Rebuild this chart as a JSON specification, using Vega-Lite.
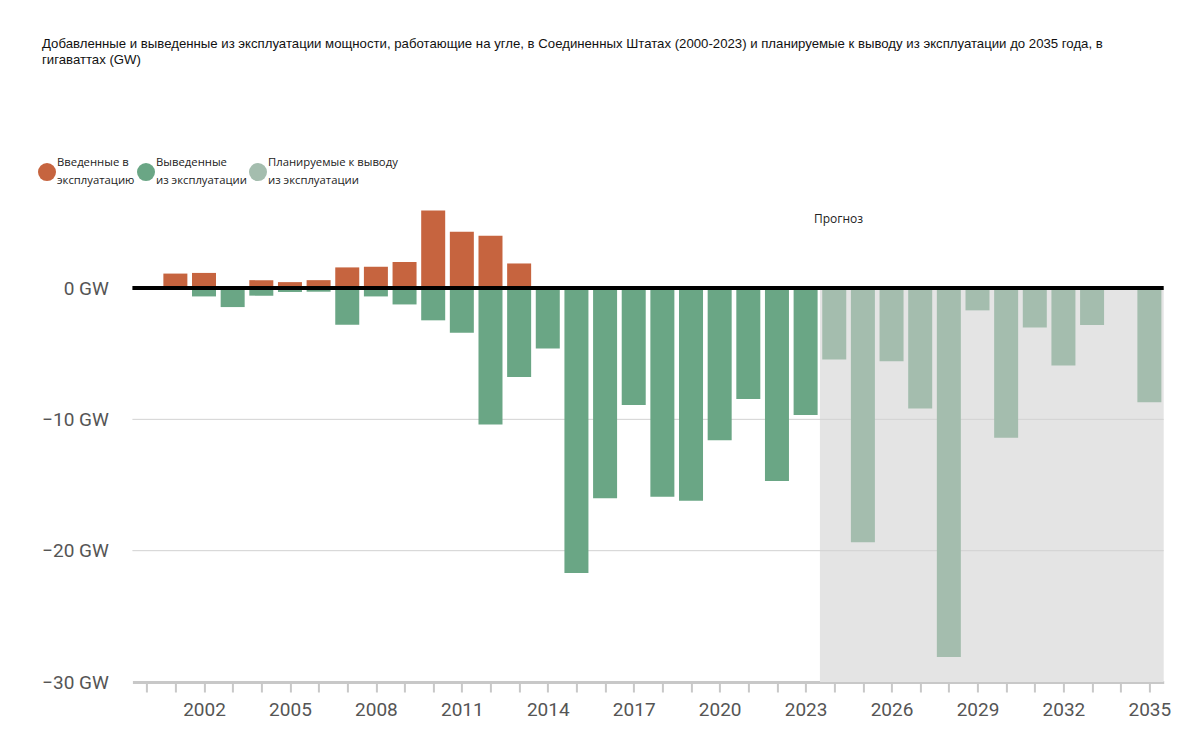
{
  "$schema": "https://vega.github.io/schema/vega-lite/v6.json",
  "autosize": "none",
  "width": 1031.3,
  "height": 525.3,
  "padding": {"left": 132.4, "top": 156.7, "right": 36.3, "bottom": 60},
  "background": "white",
  "title": {
    "text": ["Добавленные и выведенные из эксплуатации мощности, работающие на угле, в Соединенных Штатах (2000-2023) и планируемые к выводу из эксплуатации до 2035 года, в", "гигаваттах (GW)"],
    "anchor": "start",
    "frame": "group",
    "dx": -90.4,
    "font": "Liberation Sans",
    "fontSize": 13.2,
    "fontWeight": "normal",
    "color": "#111111",
    "lineHeight": 16,
    "offset": 90
  },
  "config": {
    "view": {"stroke": null},
    "axis": {"labelOverlap": false, "labelFlush": false},
    "legend": {
      "orient": "none",
      "direction": "horizontal",
      "legendX": -94.4,
      "legendY": 6,
      "symbolType": "circle",
      "symbolSize": 324,
      "symbolStrokeWidth": 0,
      "symbolOpacity": 1,
      "labelFont": "Open Sans",
      "labelFontSize": 11.3,
      "labelColor": "#222222",
      "labelOffset": 1,
      "columnPadding": 2,
      "labelLimit": 300,
      "padding": 0
    }
  },
  "resolve": {"axis": {"x": "independent"}},
  "datasets": {
    "bars": [
      {"year": 2001, "type": "Введенные в эксплуатацию", "value": 1.1},
      {"year": 2002, "type": "Введенные в эксплуатацию", "value": 1.15},
      {"year": 2004, "type": "Введенные в эксплуатацию", "value": 0.6},
      {"year": 2005, "type": "Введенные в эксплуатацию", "value": 0.45},
      {"year": 2006, "type": "Введенные в эксплуатацию", "value": 0.6},
      {"year": 2007, "type": "Введенные в эксплуатацию", "value": 1.57},
      {"year": 2008, "type": "Введенные в эксплуатацию", "value": 1.62},
      {"year": 2009, "type": "Введенные в эксплуатацию", "value": 1.98},
      {"year": 2010, "type": "Введенные в эксплуатацию", "value": 5.9},
      {"year": 2011, "type": "Введенные в эксплуатацию", "value": 4.28},
      {"year": 2012, "type": "Введенные в эксплуатацию", "value": 3.98},
      {"year": 2013, "type": "Введенные в эксплуатацию", "value": 1.87},
      {"year": 2002, "type": "Выведенные из эксплуатации", "value": -0.64},
      {"year": 2003, "type": "Выведенные из эксплуатации", "value": -1.45},
      {"year": 2004, "type": "Выведенные из эксплуатации", "value": -0.58},
      {"year": 2005, "type": "Выведенные из эксплуатации", "value": -0.3},
      {"year": 2006, "type": "Выведенные из эксплуатации", "value": -0.28},
      {"year": 2007, "type": "Выведенные из эксплуатации", "value": -2.8},
      {"year": 2008, "type": "Выведенные из эксплуатации", "value": -0.64},
      {"year": 2009, "type": "Выведенные из эксплуатации", "value": -1.25},
      {"year": 2010, "type": "Выведенные из эксплуатации", "value": -2.46},
      {"year": 2011, "type": "Выведенные из эксплуатации", "value": -3.4},
      {"year": 2012, "type": "Выведенные из эксплуатации", "value": -10.4},
      {"year": 2013, "type": "Выведенные из эксплуатации", "value": -6.77},
      {"year": 2014, "type": "Выведенные из эксплуатации", "value": -4.6},
      {"year": 2015, "type": "Выведенные из эксплуатации", "value": -21.7},
      {"year": 2016, "type": "Выведенные из эксплуатации", "value": -16.0},
      {"year": 2017, "type": "Выведенные из эксплуатации", "value": -8.9},
      {"year": 2018, "type": "Выведенные из эксплуатации", "value": -15.9},
      {"year": 2019, "type": "Выведенные из эксплуатации", "value": -16.2},
      {"year": 2020, "type": "Выведенные из эксплуатации", "value": -11.6},
      {"year": 2021, "type": "Выведенные из эксплуатации", "value": -8.45},
      {"year": 2022, "type": "Выведенные из эксплуатации", "value": -14.7},
      {"year": 2023, "type": "Выведенные из эксплуатации", "value": -9.67},
      {"year": 2024, "type": "Планируемые к выводу из эксплуатации", "value": -5.45},
      {"year": 2025, "type": "Планируемые к выводу из эксплуатации", "value": -19.35},
      {"year": 2026, "type": "Планируемые к выводу из эксплуатации", "value": -5.58},
      {"year": 2027, "type": "Планируемые к выводу из эксплуатации", "value": -9.18},
      {"year": 2028, "type": "Планируемые к выводу из эксплуатации", "value": -28.1},
      {"year": 2029, "type": "Планируемые к выводу из эксплуатации", "value": -1.7},
      {"year": 2030, "type": "Планируемые к выводу из эксплуатации", "value": -11.4},
      {"year": 2031, "type": "Планируемые к выводу из эксплуатации", "value": -3.0},
      {"year": 2032, "type": "Планируемые к выводу из эксплуатации", "value": -5.89},
      {"year": 2033, "type": "Планируемые к выводу из эксплуатации", "value": -2.82},
      {"year": 2035, "type": "Планируемые к выводу из эксплуатации", "value": -8.7}
    ],
    "forecast": [{"start": 2023.5, "end": 2035.5, "top": 0, "bottom": -30}],
    "grid": [{"g": -10}, {"g": -20}],
    "note": [{"year": 2024.15, "value": 5.25, "label": "Прогноз"}]
  },
  "layer": [
    {
      "data": {"name": "forecast"},
      "mark": {"type": "rect", "color": "#e4e4e4"},
      "encoding": {
        "x": {
          "field": "start",
          "type": "quantitative",
          "scale": {"domain": [1999.5, 2035.5], "nice": false, "zero": false, "padding": 0},
          "axis": {
            "title": null,
            "orient": "bottom",
            "values": [2000,2001,2002,2003,2004,2005,2006,2007,2008,2009,2010,2011,2012,2013,2014,2015,2016,2017,2018,2019,2020,2021,2022,2023,2024,2025,2026,2027,2028,2029,2030,2031,2032,2033,2034,2035],
            "labels": false,
            "grid": false,
            "domainColor": "#c8c8c8",
            "domainWidth": 3,
            "tickColor": "#c8c8c8",
            "tickWidth": 2,
            "tickSize": 10
          }
        },
        "x2": {"field": "end"},
        "y": {
          "field": "top",
          "type": "quantitative",
          "scale": {"domain": [-30, 10], "nice": false},
          "axis": {
            "title": null,
            "values": [-30, -20, -10, 0],
            "labelExpr": "datum.value < 0 ? '−' + abs(datum.value) + ' GW' : datum.value + ' GW'",
            "grid": false,
            "domain": false,
            "ticks": false,
            "labelFont": "Roboto",
            "labelFontSize": 19,
            "labelColor": "#555555",
            "labelPadding": 24
          }
        },
        "y2": {"field": "bottom"}
      }
    },
    {
      "data": {"name": "grid"},
      "mark": {"type": "rule", "color": "#d2d2d2", "strokeWidth": 1},
      "encoding": {
        "y": {"field": "g", "type": "quantitative"}
      }
    },
    {
      "data": {"name": "bars"},
      "mark": {"type": "bar", "width": 24, "opacity": 1},
      "encoding": {
        "x": {
          "field": "year",
          "type": "quantitative",
          "axis": {
            "title": null,
            "orient": "bottom",
            "values": [2002, 2005, 2008, 2011, 2014, 2017, 2020, 2023, 2026, 2029, 2032, 2035],
            "format": "d",
            "grid": false,
            "domain": false,
            "ticks": false,
            "labelFont": "Roboto",
            "labelFontSize": 19,
            "labelColor": "#555555",
            "labelPadding": 18,
            "labelFlush": false,
            "labelOverlap": false
          }
        },
        "y": {"field": "value", "type": "quantitative"},
        "color": {
          "field": "type",
          "type": "nominal",
          "scale": {
            "domain": ["Введенные в эксплуатацию", "Выведенные из эксплуатации", "Планируемые к выводу из эксплуатации"],
            "range": ["#c6643f", "#6aa685", "#a4bdae"]
          },
          "legend": {
            "title": null,
            "labelExpr": "datum.label == 'Введенные в эксплуатацию' ? ['Введенные в', 'эксплуатацию'] : datum.label == 'Выведенные из эксплуатации' ? ['Выведенные', 'из эксплуатации'] : ['Планируемые к выводу', 'из эксплуатации']",
            "encode": {
              "labels": {"update": {"dy": {"value": -9}, "lineHeight": {"value": 18}}}
            }
          }
        }
      }
    },
    {
      "data": {"values": [{"z": 0}]},
      "mark": {"type": "rule", "color": "#000000", "strokeWidth": 4},
      "encoding": {
        "y": {"field": "z", "type": "quantitative"}
      }
    },
    {
      "data": {"name": "note"},
      "mark": {"type": "text", "font": "Open Sans", "fontSize": 12, "color": "#222222", "align": "center"},
      "encoding": {
        "x": {"field": "year", "type": "quantitative", "axis": null},
        "y": {"field": "value", "type": "quantitative"},
        "text": {"field": "label"}
      }
    }
  ]
}
